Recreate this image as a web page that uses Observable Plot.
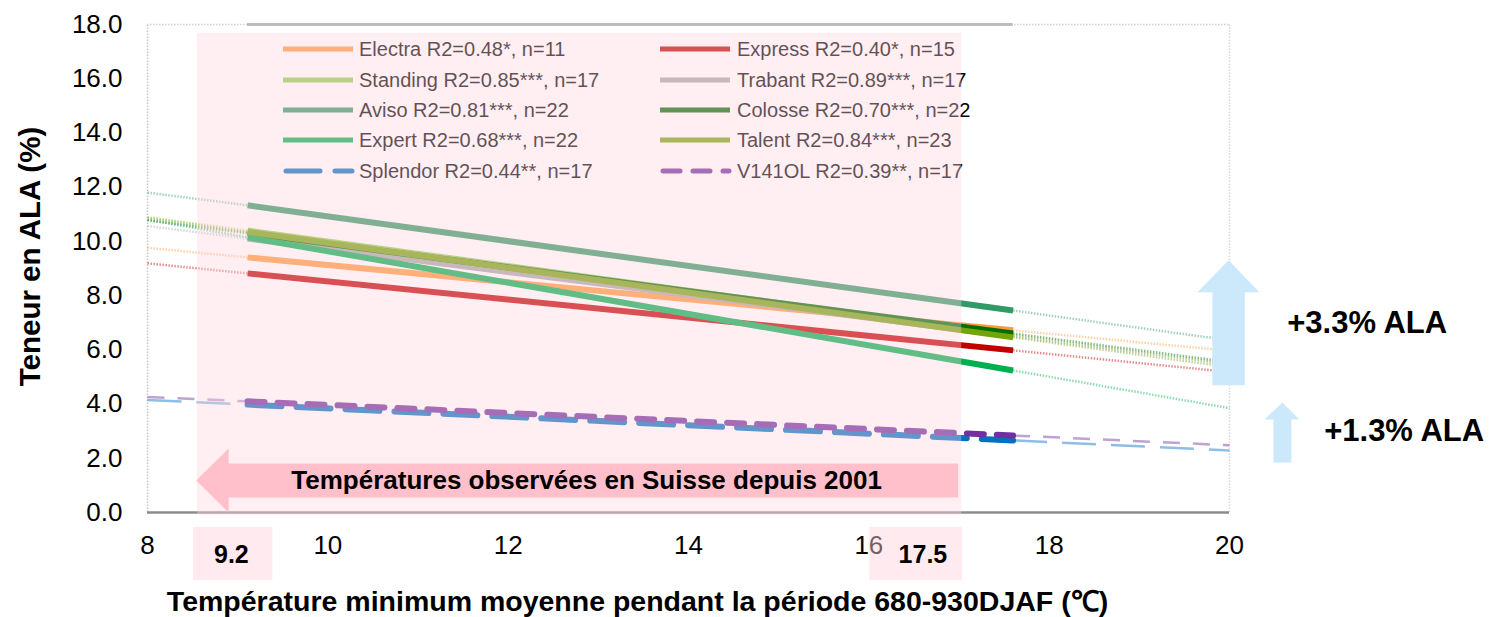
<!DOCTYPE html>
<html><head><meta charset="utf-8">
<script src="https://cdn.jsdelivr.net/npm/d3@7"></script>
<script src="https://cdn.jsdelivr.net/npm/@observablehq/plot@0.6"></script>
<style>
body{margin:0;background:#fff;}
#wrap{position:relative;width:1492px;height:617px;font-family:"Liberation Sans",Arial,sans-serif;}
#legend,#chart{position:absolute;left:0;top:0;}
.li{position:absolute;font-size:20px;line-height:20px;white-space:nowrap;color:#000;}
.sw{position:absolute;}
</style></head><body>
<div id="wrap"><div id="legend"></div><div id="chart"></div></div>
<script>
// ---- data ----
const varieties = ["Electra","Express","Standing","Trabant","Aviso","Colosse","Expert","Talent","Splendor","V141OL"];
const stats = ["R2=0.48*, n=11","R2=0.40*, n=15","R2=0.85***, n=17","R2=0.89***, n=17","R2=0.81***, n=22","R2=0.70***, n=22","R2=0.68***, n=22","R2=0.84***, n=23","R2=0.44**, n=17","R2=0.39**, n=17"];
const colors = ["#ff9a3c","#c00000","#92d050","#a6a6a6","#339966","#006f00","#00b050","#74a40c","#0070c0","#7030a0"];
const dashes = [null,null,null,null,null,null,null,null,"34,15","17,13"];
// regression line values: at x=8, at start of fitted range, at end of fitted range, at x=20
const yAt8      = [9.76, 9.19, 10.90, 10.57, 11.80, 10.78, 10.80, 10.86, 4.15, 4.26];
const yFitStart = [9.41, 8.82, 10.40, 10.10, 11.33, 10.30, 10.15, 10.35, 3.98, 4.10];
const yFitEnd   = [6.72, 5.98, 6.55, 6.50, 7.45, 6.60, 5.24, 6.46, 2.66, 2.84];
const yAt20     = [5.96, 5.18, 5.46, 5.48, 6.35, 5.55, 3.85, 5.36, 2.29, 2.48];
const fitRange = [9.11, 17.6];
const xTicks = [8,10,12,14,16,18,20];
const yTicks = [0,2,4,6,8,10,12,14,16,18];
const obsLabels = ["9.2","17.5"];
const gainLabels = ["+3.3% ALA","+1.3% ALA"];
const bandText = "Températures observées en Suisse depuis 2001";
const xTitle = "Température minimum moyenne pendant la période 680-930DJAF (℃)";
const yTitle = "Teneur en ALA (%)";

// ---- build segment tables ----
const series = varieties.map((v,i)=>({v, i, color:colors[i], dash:dashes[i],
  left:{x1:8,y1:yAt8[i],x2:fitRange[0],y2:yFitStart[i]},
  mid:{x1:fitRange[0],y1:yFitStart[i],x2:fitRange[1],y2:yFitEnd[i]},
  right:{x1:fitRange[1],y1:yFitEnd[i],x2:20,y2:yAt20[i]}}));

const fadedMarks = series.flatMap(s => [s.left, s.right].map(seg =>
  Plot.link([seg], {x1:"x1",y1:"y1",x2:"x2",y2:"y2", stroke:s.color, strokeOpacity:0.45, strokeWidth:2.5,
    strokeDasharray: s.dash ? s.dash : "1.5,1.5"})));
const solidMarks = series.map(s =>
  Plot.link([s.mid], {x1:"x1",y1:"y1",x2:"x2",y2:"y2", stroke:s.color, strokeWidth:6,
    strokeDasharray: s.dash || undefined, strokeLinecap: s.dash ? "round" : "butt"}));

// annotation shapes (decorative)
const pinkArrow = [[8.54,1.18],[8.9,2.36],[8.9,1.81],[16.99,1.81],[16.99,0.55],[8.9,0.55],[8.9,0.0],[8.54,1.18]];
const bigArrow = [[19.99,9.3],[20.33,8.12],[20.17,8.12],[20.17,4.69],[19.81,4.69],[19.81,8.12],[19.645,8.12],[19.99,9.3]];
const smallArrow = [[20.587,4.06],[20.776,3.43],[20.687,3.43],[20.687,1.84],[20.488,1.84],[20.488,3.43],[20.388,3.43],[20.587,4.06]];

const chart = Plot.plot({
  width:1492, height:617,
  marginLeft:147, marginRight:263, marginTop:24, marginBottom:105,
  style:{background:"transparent", fontFamily:"Liberation Sans, Arial, sans-serif", fontSize:"26px", color:"#000", overflow:"visible"},
  x:{domain:[8,20], ticks:xTicks, tickSize:0, tickPadding:23, label:null, tickFormat:d=>String(d)},
  y:{domain:[0,18], ticks:yTicks, tickSize:0, tickPadding:25, label:null, tickFormat:d=>d.toFixed(1)},
  marks:[
    // frame
    Plot.ruleX([8], {y1:0, y2:18, stroke:"#c8c8c8", strokeWidth:1.5, strokeDasharray:"1.5,1.5"}),
    Plot.ruleX([20], {y1:0, y2:18, stroke:"#d8d8d8", strokeWidth:1.5, strokeDasharray:"1.5,1.5"}),
    Plot.ruleY([18], {x1:8, x2:20, stroke:"#d0d0d0", strokeWidth:1.5, strokeDasharray:"1.5,1.5"}),
    Plot.ruleY([18], {x1:fitRange[0], x2:fitRange[1], stroke:"#bdbdbd", strokeWidth:3}),
    Plot.ruleY([0], {x1:8, x2:20, stroke:"#8c8c8c", strokeWidth:2.5}),
    ...fadedMarks,
    ...solidMarks,
    // observed-temperature overlay
    Plot.rect([{}], {x1:8.555, x2:17.03, y1:-0.1, y2:17.68, fill:"#ffd3dc", fillOpacity:0.38}),
    Plot.rect([{}], {x1:8.51, x2:9.39, y1:-0.55, y2:-2.51, fill:"#ffd3dc", fillOpacity:0.45}),
    Plot.rect([{}], {x1:16.01, x2:17.04, y1:-0.55, y2:-2.51, fill:"#ffd3dc", fillOpacity:0.45}),
    Plot.text([obsLabels[0]], {x:8.93, y:-1.55, text:d=>d, fontSize:25, fontWeight:"bold", fill:"#000"}),
    Plot.text([obsLabels[1]], {x:16.6, y:-1.55, text:d=>d, fontSize:25, fontWeight:"bold", fill:"#000"}),
    Plot.line(pinkArrow, {x:d=>d[0], y:d=>d[1], fill:"#ffc0cb", stroke:"none"}),
    Plot.text([bandText], {x:12.87, y:1.18, text:d=>d, fontSize:26, fontWeight:"bold", fill:"#000"}),
    Plot.line(bigArrow, {x:d=>d[0], y:d=>d[1], fill:"#cce8fb", stroke:"none"}),
    Plot.line(smallArrow, {x:d=>d[0], y:d=>d[1], fill:"#cce8fb", stroke:"none"}),
    Plot.text([gainLabels[0]], {x:20.64, y:6.97, text:d=>d, textAnchor:"start", fontSize:31, fontWeight:"bold", fill:"#000"}),
    Plot.text([gainLabels[1]], {x:21.05, y:3.02, text:d=>d, textAnchor:"start", fontSize:31, fontWeight:"bold", fill:"#000"}),
    // axis titles
    Plot.text([xTitle], {frameAnchor:"bottom", textAnchor:"middle", lineAnchor:"middle", dx:-51, dy:89, text:d=>d, fontSize:28.5, fontWeight:"bold", fill:"#000"}),
    Plot.text([yTitle], {frameAnchor:"left", textAnchor:"middle", lineAnchor:"middle", dx:-117, dy:-12, rotate:-90, text:d=>d, fontSize:29.5, fontWeight:"bold", fill:"#000"})
  ]
});
document.getElementById("chart").appendChild(chart);

// legend (drawn beneath the transparent chart so the overlay tints it)
const leg = document.getElementById("legend");
const colX = [[283,359],[660,737]];
const rowY = [49,80,110,140,171];
varieties.forEach((v,i)=>{
  const c = i%2, r = Math.floor(i/2);
  const sw = document.createElementNS("http://www.w3.org/2000/svg","svg");
  sw.setAttribute("class","sw"); sw.setAttribute("width",72); sw.setAttribute("height",10);
  sw.style.left = colX[c][0]+"px"; sw.style.top = (rowY[r]-5)+"px";
  const ln = document.createElementNS("http://www.w3.org/2000/svg","line");
  ln.setAttribute("x1",dashes[i]?3:0); ln.setAttribute("x2",dashes[i]?69:70); ln.setAttribute("y1",5); ln.setAttribute("y2",5);
  ln.setAttribute("stroke",colors[i]); ln.setAttribute("stroke-width",5);
  if(dashes[i]){ln.setAttribute("stroke-dasharray",dashes[i]); ln.setAttribute("stroke-linecap","round");}
  sw.appendChild(ln); leg.appendChild(sw);
  const t = document.createElement("div"); t.className="li";
  t.textContent = v+" "+stats[i];
  t.style.left = colX[c][1]+"px"; t.style.top = (rowY[r]-10)+"px";
  leg.appendChild(t);
});
</script></body></html>
